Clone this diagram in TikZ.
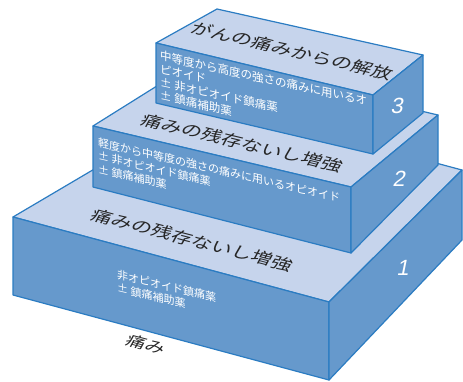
\documentclass[tikz,border=0pt]{standalone}
\usepackage{fontspec}
\setmainfont{Liberation Sans}
\newfontfamily\jp{Noto Sans CJK JP}
\definecolor{edgeblue}{HTML}{2B7CC2}
\definecolor{faceblue}{HTML}{6699CC}
\definecolor{topblue}{HTML}{C6D4EC}
\begin{document}
\begin{tikzpicture}[x=1pt,y=1pt,
  sideface/.style={fill=faceblue,draw=edgeblue,line width=1.2pt,line join=round},
  topface/.style={fill=topblue,draw=edgeblue,line width=1.2pt,line join=round},
  fronttext/.style={text=white,font=\jp\fontsize{11}{13.3}\selectfont,align=left,inner sep=0pt,anchor=north west,transform shape},
  toptext/.style={text=black!85,font=\jp\fontsize{20}{24}\selectfont,inner sep=0pt,transform shape},
  numtext/.style={text=white,font=\fontsize{22}{26}\selectfont,inner sep=0pt,transform shape,xslant=0.2}]
\useasboundingbox (0,0) rectangle (463,-381);
% box 1
\coordinate (A1) at (13,-217); \coordinate (B1) at (329,-302);
\coordinate (C1) at (329,-380); \coordinate (D1) at (13,-295);
\coordinate (E1) at (462,-170); \coordinate (F1) at (462,-240);
\coordinate (G1) at (208,-102);
% box 2
\coordinate (A2) at (93,-126); \coordinate (B2) at (351,-187);
\coordinate (C2) at (351,-253); \coordinate (D2) at (93,-187);
\coordinate (E2) at (438,-115); \coordinate (F2) at (438,-165);
\coordinate (G2) at (200,-59);
% box 3
\coordinate (A3) at (156,-43); \coordinate (B3) at (373,-95);
\coordinate (C3) at (373,-154); \coordinate (D3) at (156,-103);
\coordinate (E3) at (423,-55); \coordinate (F3) at (423,-113);
\coordinate (G3) at (217,-9);

\draw[topface] (A1) -- (B1) -- (E1) -- (G1) -- cycle;
\draw[sideface] (A1) -- (B1) -- (C1) -- (D1) -- cycle;
\draw[sideface] (B1) -- (E1) -- (F1) -- (C1) -- cycle;

\draw[topface] (A2) -- (B2) -- (E2) -- (G2) -- cycle;
\draw[sideface] (A2) -- (B2) -- (C2) -- (D2) -- cycle;
\draw[sideface] (B2) -- (E2) -- (F2) -- (C2) -- cycle;

\draw[topface] (A3) -- (B3) -- (E3) -- (G3) -- cycle;
\draw[sideface] (A3) -- (B3) -- (C3) -- (D3) -- cycle;
\draw[sideface] (B3) -- (E3) -- (F3) -- (C3) -- cycle;

% top texts
\begin{scope}[shift={(292,-51)},cm={1,-0.24,0.38,0.7,(0,0)}]
  \node[toptext] (t3) at (0,0) {がんの痛みからの解放};
\end{scope}
\begin{scope}[shift={(242,-143)},cm={1,-0.24,0.38,0.7,(0,0)}]
  \node[toptext] (t2) at (0,0) {痛みの残存ないし増強};
\end{scope}
\begin{scope}[shift={(192,-240)},cm={1,-0.26,0.38,0.7,(0,0)}]
  \node[toptext] (t1) at (0,0) {痛みの残存ないし増強};
\end{scope}

% front texts
\begin{scope}[shift={(160,-50)},yslant=-0.22]
  \node[fronttext,font=\jp\fontsize{11.5}{13.3}\selectfont] (f3) at (0,0) {中等度から高度の強さの痛みに用いるオ\\ピオイド\\± 非オピオイド鎮痛薬\\± 鎮痛補助薬};
\end{scope}
\begin{scope}[shift={(98,-137)},yslant=-0.23]
  \node[fronttext] (f2) at (0,0) {軽度から中等度の強さの痛みに用いるオピオイド\\± 非オピオイド鎮痛薬\\± 鎮痛補助薬};
\end{scope}
\begin{scope}[shift={(117,-269)},yslant=-0.24]
  \node[fronttext] (f1) at (0,0) {非オピオイド鎮痛薬\\± 鎮痛補助薬};
\end{scope}

% numbers
\node[numtext] (n3) at (398,-106) {3};
\node[numtext] (n2) at (400,-179) {2};
\node[numtext] (n1) at (404,-268) {1};

% bottom label
\begin{scope}[shift={(146,-344)},cm={1,-0.26,0.38,0.7,(0,0)}]
  \node[toptext,font=\jp\fontsize{19}{22}\selectfont] (pain) at (0,0) {痛み};
\end{scope}
\end{tikzpicture}
\end{document}
